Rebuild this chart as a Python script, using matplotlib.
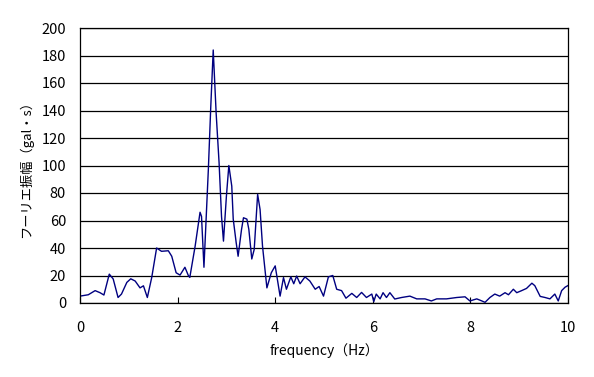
import numpy as np
import matplotlib
matplotlib.use("Agg")
import matplotlib.pyplot as plt

plt.rcParams['font.family'] = ['Noto Sans CJK JP', 'DejaVu Sans']

# Fourier amplitude spectrum
freq = [0.00, 0.17, 0.31, 0.41, 0.49, 0.60, 0.68, 0.78, 0.85, 0.96,
        1.04, 1.13, 1.23, 1.30, 1.38, 1.47, 1.57, 1.67, 1.81, 1.88,
        1.97, 2.05, 2.15, 2.22, 2.25, 2.36, 2.46, 2.49, 2.54, 2.63,
        2.68, 2.73, 2.79, 2.85, 2.90, 2.94, 3.00, 3.05, 3.11, 3.14,
        3.20, 3.24, 3.31, 3.35, 3.42, 3.46, 3.52, 3.57, 3.64, 3.69,
        3.74, 3.83, 3.92, 4.00, 4.10, 4.17, 4.23, 4.32, 4.38, 4.44,
        4.51, 4.61, 4.71, 4.82, 4.90, 4.99, 5.09, 5.18, 5.26, 5.36,
        5.45, 5.57, 5.67, 5.77, 5.87, 5.98, 6.02, 6.07, 6.15, 6.21,
        6.28, 6.35, 6.45, 6.59, 6.76, 6.90, 7.07, 7.20, 7.31, 7.51,
        7.72, 7.89, 7.99, 8.13, 8.20, 8.30, 8.40, 8.50, 8.60, 8.71,
        8.78, 8.88, 8.95, 9.05, 9.15, 9.26, 9.32, 9.43, 9.53, 9.63,
        9.73, 9.80, 9.87, 9.94, 10.00]
amp = [5.0, 6.0, 9.0, 7.5, 5.8, 21.0, 17.5, 4.0, 6.5, 15.0,
       17.6, 16.0, 11.0, 12.5, 4.0, 18.6, 40.0, 37.6, 38.0, 34.0,
       22.0, 20.3, 26.0, 20.0, 18.6, 41.5, 66.0, 63.0, 26.0, 97.0,
       143.0, 184.0, 138.0, 102.0, 63.0, 45.0, 77.6, 100.0, 85.0, 61.0,
       44.0, 34.0, 53.5, 62.0, 61.0, 53.5, 32.0, 39.0, 79.0, 68.0,
       41.4, 11.0, 22.0, 27.0, 5.0, 18.5, 10.0, 19.0, 14.0, 19.6,
       14.0, 19.0, 16.0, 10.0, 12.0, 5.0, 19.0, 20.0, 10.0, 9.0,
       3.5, 7.0, 4.0, 7.7, 4.0, 6.5, 1.0, 6.5, 3.0, 7.5,
       4.0, 7.5, 2.9, 4.0, 5.0, 3.0, 3.0, 1.5, 3.0, 3.0,
       4.0, 4.5, 1.5, 3.0, 2.0, 0.5, 4.0, 6.5, 5.0, 7.5,
       6.0, 10.0, 7.5, 9.0, 10.6, 14.4, 12.6, 4.8, 4.0, 3.0,
       6.5, 1.5, 9.0, 11.5, 12.7]

x_ticks = [0, 2, 4, 6, 8, 10]
y_ticks = list(range(0, 201, 20))

fig = plt.figure(figsize=(5.94, 3.77), dpi=100)
ax = fig.add_axes([80 / 594, 1 - 303 / 377, 488 / 594, 275 / 377])

ax.plot(freq, amp, color='#000080', lw=1.0)

ax.set_xlim(0, 10)
ax.set_ylim(0, 200)
ax.set_xticks(x_ticks)
ax.set_yticks(y_ticks)
ax.yaxis.grid(True, color='black', lw=0.9)
ax.set_axisbelow(True)

ax.tick_params(axis='x', direction='in', length=4, width=0.8, pad=13,
               labelsize=10.5, colors='black')
ax.tick_params(axis='y', length=0, pad=10, labelsize=10.5)
for s in ax.spines.values():
    s.set_color('black')
    s.set_linewidth(0.9)

ax.set_xlabel('frequency（Hz）', fontsize=10, labelpad=6)
ax.set_ylabel('フーリエ振幅（gal・s）', fontsize=9.5, labelpad=6)

fig.savefig('out.png', dpi=100)
